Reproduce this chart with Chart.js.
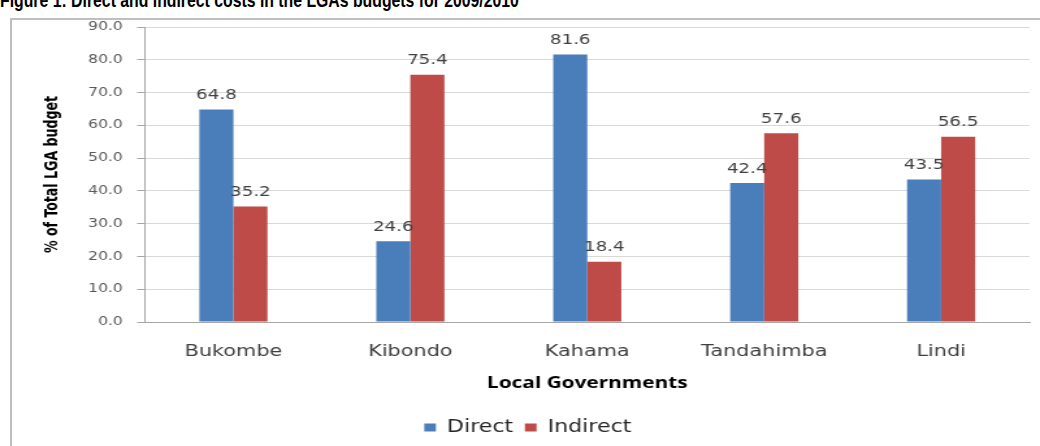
<!DOCTYPE html>
<html>
<head>
<meta charset="utf-8">
<script src="https://cdn.jsdelivr.net/npm/chart.js@4.4.1/dist/chart.umd.min.js"></script>
<style>
  body { margin: 0; background: #fff; width: 1040px; height: 446px; overflow: hidden; position: relative; }
  #titulo {
    position: absolute; left: 0; top: -11px; white-space: nowrap;
    font: bold 20px "Liberation Sans", sans-serif; color: #000;
    transform: scaleX(0.79); transform-origin: 0 0;
  }
  #marco {
    position: absolute; left: 10px; top: 18px; width: 1040px; height: 440px;
    border-left: 2px solid #bfbfbf; border-top: 2px solid #bfbfbf;
  }
  /* la imagen original está estirada en horizontal */
  #cont { position: absolute; left: 0; top: 0; width: 800px; height: 446px; transform: scaleX(1.3); transform-origin: 0 0; }
</style>
</head>
<body>
<div id="titulo">Figure 1: Direct and indirect costs in the LGAs budgets for 2009/2010</div>
<div id="marco"></div>
<div id="cont"><canvas id="grafica" width="800" height="446"></canvas></div>
<script>
const categorias = ["Bukombe", "Kibondo", "Kahama", "Tandahimba", "Lindi"];
const directo = [64.8, 24.6, 81.6, 42.4, 43.5];
const indirecto = [35.2, 75.4, 18.4, 57.6, 56.5];
const ticksY = [0, 10, 20, 30, 40, 50, 60, 70, 80, 90];

// etiquetas encima de cada barra
const etiquetas = {
  id: "etiquetas",
  afterDatasetsDraw(chart) {
    const ctx = chart.ctx;
    ctx.save();
    ctx.font = "14px 'DejaVu Sans'";
    ctx.fillStyle = "#404040";
    ctx.textAlign = "center";
    ctx.textBaseline = "bottom";
    chart.data.datasets.forEach((ds, i) => {
      chart.getDatasetMeta(i).data.forEach((bar, j) => {
        ctx.fillText(ds.data[j].toFixed(1), bar.x, bar.y - 7);
      });
    });
    ctx.restore();
  }
};

new Chart(document.getElementById("grafica"), {
  type: "bar",
  data: {
    labels: categorias,
    datasets: [
      { label: "Direct", data: directo, backgroundColor: "#4a7ebb" },
      { label: "Indirect", data: indirecto, backgroundColor: "#be4b48" }
    ]
  },
  options: {
    responsive: false,
    animation: false,
    devicePixelRatio: 1,
    layout: { padding: { top: 27, left: 20, right: 8, bottom: 0 } },
    datasets: { bar: { categoryPercentage: 0.385, barPercentage: 1 } },
    plugins: {
      tooltip: { enabled: false },
      legend: {
        position: "bottom",
        labels: {
          boxWidth: 9, boxHeight: 8, padding: 9,
          font: { family: "'DejaVu Sans'", size: 17 }, color: "#262626"
        }
      }
    },
    scales: {
      x: {
        grid: { display: false },
        border: { color: "#a6a6a6" },
        ticks: { font: { family: "'DejaVu Sans'", size: 16 }, color: "#404040", padding: 12 },
        title: {
          display: true, text: "Local Governments", color: "#000",
          font: { family: "'Open Sans'", size: 16, weight: "bold" }, padding: { top: 0, bottom: 17 }
        },
        afterFit(scale) { scale.height = 88; }
      },
      y: {
        min: 0, max: 90,
        afterBuildTicks(scale) { scale.ticks = ticksY.map(v => ({ value: v })); },
        grid: { color: "#d9d9d9", tickLength: 6, tickColor: "#a6a6a6" },
        border: { color: "#a6a6a6" },
        ticks: {
          font: { family: "'DejaVu Sans'", size: 12 }, color: "#595959", padding: 11,
          callback: v => v.toFixed(1)
        },
        title: {
          display: true, text: "% of Total LGA budget", color: "#000",
          font: { family: "'DejaVu Sans Condensed'", size: 14, weight: "bold" }, padding: { top: 12, bottom: 0 }
        },
        afterFit(scale) { scale.width = 91.5; }
      }
    }
  },
  plugins: [etiquetas]
});
</script>
</body>
</html>
